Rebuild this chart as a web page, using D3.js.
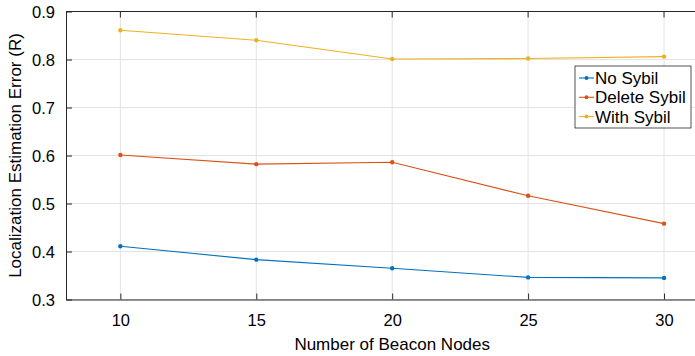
<!DOCTYPE html>
<html lang="en">
<head>
<meta charset="UTF-8">
<title>Localization Estimation Error</title>
<script src="https://cdn.jsdelivr.net/npm/d3@7"></script>
<style>
  html, body { margin: 0; padding: 0; background: #fff; }
  svg { display: block; font-family: "Liberation Sans", Arial, sans-serif; }
</style>
</head>
<body>
<svg width="695" height="356"></svg>
<script>
// data
var beacons = [10, 15, 20, 25, 30];
var noSybil = [0.411, 0.383, 0.365, 0.346, 0.345];
var deleteSybil = [0.601, 0.582, 0.586, 0.516, 0.458];
var withSybil = [0.861, 0.840, 0.801, 0.802, 0.806];
var xTicks = [10, 15, 20, 25, 30];
var yTicks = [0.3, 0.4, 0.5, 0.6, 0.7, 0.8, 0.9];

var series = [
  { name: "No Sybil", values: noSybil, color: "#0072BD" },
  { name: "Delete Sybil", values: deleteSybil, color: "#D95319" },
  { name: "With Sybil", values: withSybil, color: "#EDB120" }
];

var svg = d3.select("svg");
var pLeft = 66, pTop = 11.5, pRight = 718.4, pBottom = 299.5;

var x = d3.scaleLinear().domain([8, 32]).range([pLeft, pRight]);
var y = d3.scaleLinear().domain([0.3, 0.9]).range([pBottom, pTop]);

// grid
var grid = svg.append("g").attr("stroke", "#e3e3e3").attr("stroke-width", 1);
xTicks.forEach(function (t) {
  grid.append("line").attr("x1", x(t)).attr("x2", x(t)).attr("y1", pTop).attr("y2", pBottom);
});
yTicks.forEach(function (t) {
  grid.append("line").attr("x1", pLeft).attr("x2", pRight).attr("y1", y(t)).attr("y2", y(t));
});

// axes
var xAxis = svg.append("g")
  .attr("transform", "translate(0," + pBottom + ")")
  .call(d3.axisBottom(x).tickValues(xTicks).tickSizeInner(-6).tickSizeOuter(0).tickPadding(15));
var yAxis = svg.append("g")
  .attr("transform", "translate(" + pLeft + ",0)")
  .call(d3.axisLeft(y).tickValues(yTicks).tickFormat(d3.format(".1f")).tickSizeInner(-6).tickSizeOuter(0).tickPadding(11));
[xAxis, yAxis].forEach(function (a) {
  a.select(".domain").attr("stroke", "#262626");
  a.selectAll(".tick line").attr("stroke", "#262626");
  a.selectAll(".tick text").attr("fill", "#000").style("font-size", "16.5px")
    .style("font-family", "Liberation Sans, Arial, sans-serif");
});
xAxis.selectAll(".tick text").attr("dy", "0.71em");
yAxis.selectAll(".tick text").attr("dy", "0.35em");

// top box line + top ticks
svg.append("line").attr("x1", pLeft).attr("x2", pRight).attr("y1", pTop).attr("y2", pTop)
  .attr("stroke", "#262626");
xTicks.forEach(function (t) {
  svg.append("line").attr("x1", x(t)).attr("x2", x(t)).attr("y1", pTop).attr("y2", pTop + 6)
    .attr("stroke", "#262626");
});

// lines
var line = d3.line()
  .x(function (d, i) { return x(beacons[i]); })
  .y(function (d) { return y(d); });

series.forEach(function (s) {
  svg.append("path").datum(s.values)
    .attr("fill", "none").attr("stroke", s.color).attr("stroke-width", 1.1)
    .attr("d", line);
  svg.selectAll(null).data(s.values).enter().append("circle")
    .attr("cx", function (d, i) { return x(beacons[i]); })
    .attr("cy", function (d) { return y(d); })
    .attr("r", 2.2).attr("fill", s.color);
});

// axis labels
svg.append("text")
  .attr("x", x(20)).attr("y", 350)
  .attr("text-anchor", "middle").style("font-size", "17px")
  .text("Number of Beacon Nodes");
svg.append("text")
  .attr("transform", "translate(21," + y(0.6) + ") rotate(-90)")
  .attr("text-anchor", "middle").style("font-size", "17px")
  .text("Localization Estimation Error (R)");

// legend
var lg = svg.append("g").attr("transform", "translate(575,66)");
lg.append("rect").attr("width", 116).attr("height", 62)
  .attr("fill", "#fff").attr("stroke", "#262626").attr("stroke-width", 0.8);
series.forEach(function (s, i) {
  var row = lg.append("g").attr("transform", "translate(0," + (12 + i * 19.3) + ")");
  row.append("line").attr("x1", 4).attr("x2", 19).attr("y1", 0).attr("y2", 0)
    .attr("stroke", s.color).attr("stroke-width", 1.1);
  row.append("circle").attr("cx", 11.5).attr("cy", 0).attr("r", 2).attr("fill", s.color);
  row.append("text").attr("x", 20).attr("dy", "0.35em").style("font-size", "17px")
    .text(s.name);
});
</script>
</body>
</html>
